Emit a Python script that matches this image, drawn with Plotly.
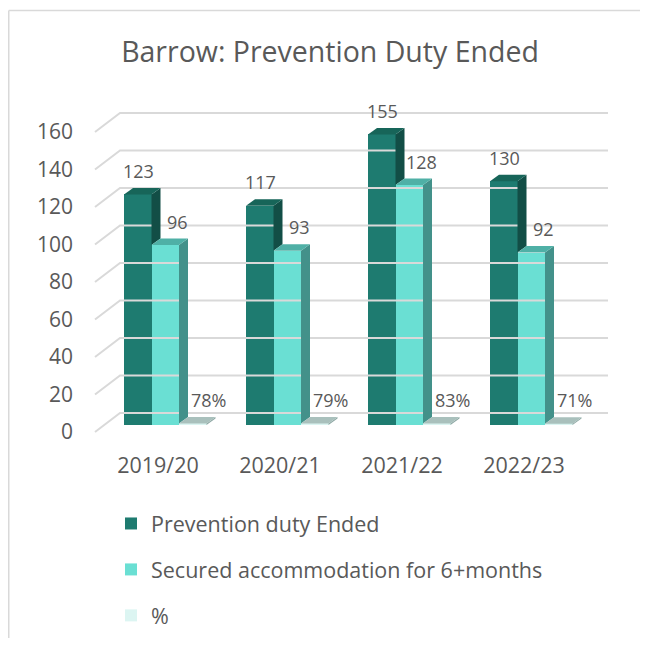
import plotly.graph_objects as go

# ---- data ----
categories = ["2019/20", "2020/21", "2021/22", "2022/23"]
prevention_ended = [123, 117, 155, 130]
secured_6m = [96, 93, 128, 92]
pct_values = [0.78, 0.79, 0.83, 0.71]
pct_labels = ["78%", "79%", "83%", "71%"]
y_ticks = [0, 20, 40, 60, 80, 100, 120, 140, 160]
series_names = ["Prevention duty Ended", "Secured accommodation for 6+months", "%"]

# ---- page geometry (page pixels; the page body adds an 8px offset) ----
OFF = 8
FIG_W, FIG_H = 648 - 2 * OFF, 646 - 2 * OFF
PL, PR, PT, PB = 92, 612, 100, 440          # plot area in page pixels
PW, PH = PR - PL, PB - PT

PX_X = 122.0          # pixels per category unit
PX_Y = 1.875          # pixels per value unit
CAT0 = 158            # page x of first category centre
BAR_W = 27.5 / PX_X
OFFSETS = [-34 / PX_X, -6.5 / PX_X, 21 / PX_X]
DDX = 9 / PX_X        # bar depth (x)
DDY = 6.5 / PX_Y      # bar depth (y)
WALL_DY = 12 / PX_Y   # back wall shift up (relative to bar plane)
FRONT_DY = 7 / PX_Y   # front floor edge shift down
ZERO_Y = 425          # page y of bar-plane zero
X_RANGE = [(PL - CAT0) / PX_X, (PR - CAT0) / PX_X]
Y_RANGE = [(ZERO_Y - PB) / PX_Y, (ZERO_Y - PT) / PX_Y]
GRID_X0 = (95 - CAT0) / PX_X
GRID_X1 = (120 - CAT0) / PX_X
GRID_X2 = (608 - CAT0) / PX_X


def paper_x(px):
    return (px - PL) / PW


def paper_y(py):
    return 1 - (py - PT) / PH


FRONT = ["#1e7b70", "#6adfd3", "#dcf5f2"]
TOP = ["#176559", "#4fb0a6", "#a9c0bc"]
SIDE = ["#124e46", "#43918a", "#8fa9a5"]
TXT = "#595959"
FONT = "Open Sans"

xs = list(range(len(categories)))
series = [prevention_ended, secured_6m, pct_values]

fig = go.Figure()

# gridlines (back wall + slanted side wall)
gx, gy = [], []
for t in y_ticks:
    gx += [GRID_X0, GRID_X1, GRID_X2, None]
    gy += [t - FRONT_DY, t + WALL_DY, t + WALL_DY, None]
fig.add_trace(go.Scatter(x=gx, y=gy, mode="lines", line=dict(color="#d9d9d9", width=2),
                         hoverinfo="skip", showlegend=False))

# front faces as bars
for k, vals in enumerate(series):
    fig.add_trace(go.Bar(x=xs, y=vals, width=BAR_W, offset=OFFSETS[k], name=series_names[k],
                         marker=dict(color=FRONT[k], line=dict(width=0)),
                         legendgroup=f"g{k}", hoverinfo="skip"))

# 3D side & top faces
for k, vals in enumerate(series):
    for i, v in zip(xs, vals):
        x0 = i + OFFSETS[k]
        x1 = x0 + BAR_W
        lo = 0
        if k + 1 < len(series):
            lo = min(series[k + 1][i], v)
        sx = [x1, x1, x1 + DDX, x1 + DDX, x1]
        sy = [lo, v, v + DDY, lo + DDY, lo]
        fig.add_trace(go.Scatter(x=sx, y=sy, mode="lines", fill="toself", fillcolor=SIDE[k],
                                 line=dict(width=0, color=SIDE[k]), hoverinfo="skip", showlegend=False))
        tx = [x0, x1, x1 + DDX, x0 + DDX, x0]
        ty = [v, v, v + DDY, v + DDY, v]
        fig.add_trace(go.Scatter(x=tx, y=ty, mode="lines", fill="toself", fillcolor=TOP[k],
                                 line=dict(width=0, color=TOP[k]), hoverinfo="skip", showlegend=False))

# data labels
label_dx = [-20, 19, 50]
for k, vals in enumerate(series):
    for i, v in zip(xs, vals):
        txt = pct_labels[i] if k == 2 else str(v)
        fig.add_annotation(x=i + label_dx[k] / PX_X, y=v, text=txt, showarrow=False,
                           yshift=23.5, yanchor="middle", xanchor="center",
                           font=dict(family=FONT, size=18, color=TXT))

BORDER = dict(color="#d9d9d9", width=1.5)
fig.update_layout(
    width=FIG_W, height=FIG_H,
    margin=dict(l=PL - OFF, r=FIG_W - (PR - OFF), t=PT - OFF, b=FIG_H - (PB - OFF),
                autoexpand=False),
    paper_bgcolor="white", plot_bgcolor="white",
    title=dict(text="Barrow: Prevention Duty Ended", x=(330 - OFF) / FIG_W, xanchor="center",
               y=1 - (52 - OFF) / FIG_H, yanchor="middle",
               font=dict(family=FONT, size=28.5, color=TXT)),
    xaxis=dict(range=X_RANGE, tickvals=xs, ticktext=categories, showgrid=False,
               zeroline=False, showline=False, ticks="", ticklabelstandoff=10,
               tickfont=dict(family=FONT, size=21.5, color=TXT)),
    yaxis=dict(range=Y_RANGE, tickvals=[t - FRONT_DY for t in y_ticks],
               ticktext=[str(t) for t in y_ticks], showgrid=False, zeroline=False,
               showline=False, ticks="", ticklabelstandoff=18,
               tickfont=dict(family=FONT, size=21, color=TXT)),
    showlegend=True,
    legend=dict(x=paper_x(111), xanchor="left", y=paper_y(503), yanchor="top",
                orientation="v", tracegroupgap=15,
                font=dict(family=FONT, size=21.5, color=TXT), bgcolor="rgba(0,0,0,0)"),
    shapes=[
        dict(type="line", xref="paper", yref="paper", x0=paper_x(OFF + 0.75), x1=paper_x(OFF + FIG_W),
             y0=paper_y(10.5), y1=paper_y(10.5), line=BORDER),
        dict(type="line", xref="paper", yref="paper", x0=paper_x(OFF + 0.75), x1=paper_x(OFF + 0.75),
             y0=paper_y(10.5), y1=paper_y(OFF + FIG_H), line=BORDER),
    ],
    bargap=0,
)

fig.write_html("out.html")
